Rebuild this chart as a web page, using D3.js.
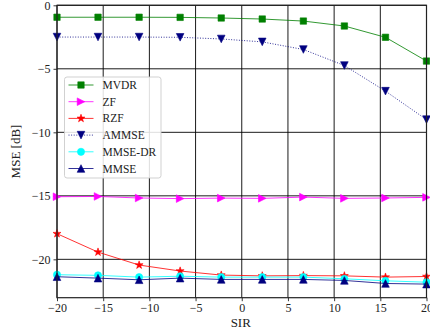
<!DOCTYPE html>
<html>
<head>
<meta charset="utf-8">
<script src="https://cdn.jsdelivr.net/npm/d3@7"></script>
<style>
  body { margin: 0; background: #fff; }
  svg text { font-family: "Liberation Serif", "DejaVu Serif", serif; fill: #222; }
</style>
</head>
<body>
<div id="chart"></div>
<script>
const sir = [-20, -15.56, -11.11, -6.67, -2.22, 2.22, 6.67, 11.11, 15.56, 20];
const mvdr = [-0.94, -0.94, -0.94, -0.95, -1.0, -1.08, -1.24, -1.63, -2.52, -4.39];
const zf = [-15.07, -15.05, -15.17, -15.22, -15.18, -15.2, -15.1, -15.2, -15.17, -15.12];
const rzf = [-17.98, -19.43, -20.45, -20.92, -21.24, -21.3, -21.28, -21.3, -21.4, -21.35];
const ammse = [-2.5, -2.5, -2.5, -2.52, -2.65, -2.88, -3.48, -4.74, -6.76, -9.0];
const mmseDr = [-21.21, -21.26, -21.4, -21.33, -21.4, -21.4, -21.4, -21.53, -21.69, -21.8];
const mmse = [-21.37, -21.48, -21.61, -21.48, -21.58, -21.58, -21.58, -21.66, -21.9, -21.95];
const xTicks = [-20, -15, -10, -5, 0, 5, 10, 15, 20];
const yTicks = [-20, -15, -10, -5, 0];

const series = [
  { name: "MVDR", values: mvdr, color: "#008000", marker: "square", dash: null },
  { name: "ZF", values: zf, color: "#ff00ff", marker: "right", dash: null },
  { name: "RZF", values: rzf, color: "#ff0000", marker: "star", dash: null },
  { name: "AMMSE", values: ammse, color: "#000080", marker: "down", dash: "1,1.6" },
  { name: "MMSE-DR", values: mmseDr, color: "#00ffff", marker: "circle", dash: null },
  { name: "MMSE", values: mmse, color: "#000080", marker: "up", dash: null }
];

const W = 430, H = 332;
const margin = { top: 5.3, right: 3.5, bottom: 34.3, left: 57 };
const width = W - margin.left - margin.right;
const height = H - margin.top - margin.bottom;

const svg = d3.select("#chart").append("svg")
  .attr("width", W).attr("height", H)
  .style("display", "block");

const g = svg.append("g").attr("transform", `translate(${margin.left},${margin.top})`);

const x = d3.scaleLinear().domain([-20, 20]).range([0, width]);
const y = d3.scaleLinear().domain([-23.02, 0]).range([height, 0]);

// grid
g.append("g").selectAll("line").data(xTicks).enter().append("line")
  .attr("x1", d => x(d)).attr("x2", d => x(d))
  .attr("y1", 0).attr("y2", height)
  .attr("stroke", "#000").attr("stroke-width", 0.9);
g.append("g").selectAll("line").data(yTicks).enter().append("line")
  .attr("x1", 0).attr("x2", width)
  .attr("y1", d => y(d)).attr("y2", d => y(d))
  .attr("stroke", "#000").attr("stroke-width", 0.9);

// axes
const xAxis = d3.axisBottom(x).tickValues(xTicks).tickSize(3.5).tickPadding(2)
  .tickFormat(d => String(d).replace("-", "\u2212"));
const yAxis = d3.axisLeft(y).tickValues(yTicks).tickSize(3.5).tickPadding(3)
  .tickFormat(d => String(d).replace("-", "\u2212"));

const gx = g.append("g").attr("transform", `translate(0,${height})`).call(xAxis);
const gy = g.append("g").call(yAxis);
[gx, gy].forEach(a => {
  a.select(".domain").remove();
  a.selectAll("line").attr("stroke", "#222").attr("stroke-width", 0.9);
  a.selectAll("text").attr("font-size", 12)
    .style("font-family", "'Liberation Serif', serif").attr("fill", "#333");
});

const line = d3.line().x((d, i) => x(sir[i])).y(d => y(d));

function markerPath(type, s) {
  switch (type) {
    case "square": return `M${-s},${-s}h${2 * s}v${2 * s}h${-2 * s}Z`;
    case "right": return `M${-s},${-s}L${s},0L${-s},${s}Z`;
    case "down": return `M${-s},${-s}L${s},${-s}L0,${s}Z`;
    case "up": return `M${-s},${s}L${s},${s}L0,${-s}Z`;
    case "star": return d3.symbol(d3.symbolStar, s * s * 1.8)();
    case "circle": return d3.symbol(d3.symbolCircle, Math.PI * s * s)();
  }
}
const markerSize = { square: 3.2, right: 3.8, down: 3.8, up: 3.8, star: 3.3, circle: 3.6 };

series.forEach(s => {
  g.append("path").datum(s.values)
    .attr("d", line)
    .attr("fill", "none")
    .attr("stroke", s.color)
    .attr("stroke-opacity", 0.8)
    .attr("stroke-width", 1)
    .attr("stroke-dasharray", s.dash);
  g.append("g").selectAll("path").data(s.values).enter().append("path")
    .attr("transform", (d, i) => `translate(${x(sir[i])},${y(d)})`)
    .attr("d", markerPath(s.marker, markerSize[s.marker]))
    .attr("fill", s.color)
    .attr("stroke", s.color)
    .attr("stroke-width", 0.6);
});

// frame
g.append("rect").attr("x", 0).attr("y", 0).attr("width", width).attr("height", height)
  .attr("fill", "none").attr("stroke", "#222").attr("stroke-width", 1.2);

// labels
svg.append("text").attr("x", margin.left + width / 2 - 1).attr("y", 327)
  .attr("text-anchor", "middle").attr("font-size", 13).text("SIR");
svg.append("text")
  .attr("transform", `translate(20,${margin.top + height / 2}) rotate(-90)`)
  .attr("text-anchor", "middle").attr("font-size", 13).text("MSE [dB]");

// legend
const lg = svg.append("g").attr("transform", "translate(64.5,77)");
lg.append("rect").attr("width", 96.5).attr("height", 101).attr("rx", 2.5)
  .attr("fill", "#fff").attr("fill-opacity", 0.85)
  .attr("stroke", "#ccc").attr("stroke-width", 0.9);
series.forEach((s, i) => {
  const yy = 8 + i * 16.7;
  lg.append("line").attr("x1", 4).attr("x2", 29).attr("y1", yy).attr("y2", yy)
    .attr("stroke", s.color).attr("stroke-opacity", 0.8).attr("stroke-width", 1)
    .attr("stroke-dasharray", s.dash);
  lg.append("path").attr("transform", `translate(16.5,${yy})`)
    .attr("d", markerPath(s.marker, markerSize[s.marker]))
    .attr("fill", s.color).attr("stroke", s.color).attr("stroke-width", 0.6);
  lg.append("text").attr("x", 38).attr("y", yy + 4).attr("font-size", 11.5)
    .attr("fill", "#333").text(s.name);
});
</script>
</body>
</html>
